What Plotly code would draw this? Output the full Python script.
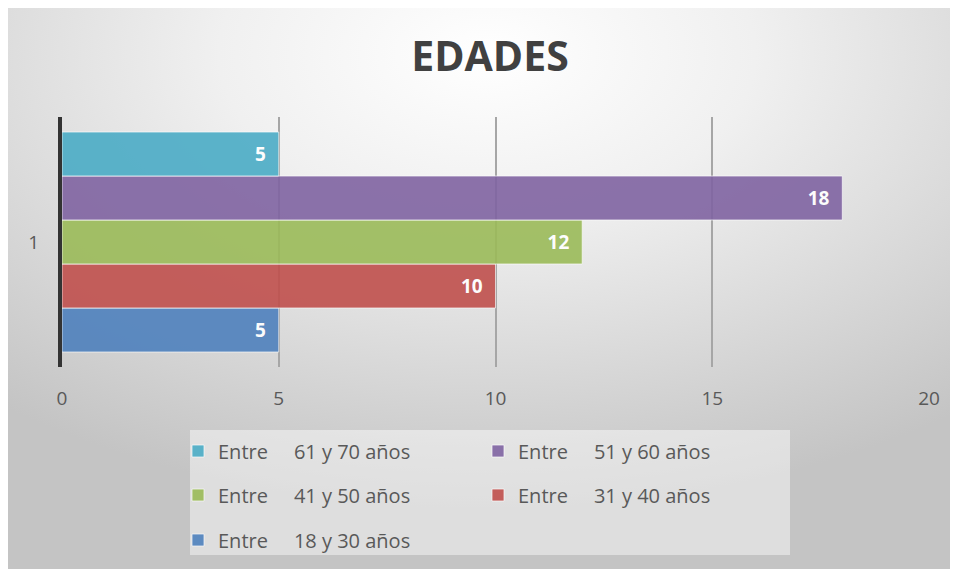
import base64
import plotly.graph_objects as go

categories = ["1"]
series_names = [
    "Entre\u00a0\u00a0\u00a0\u00a0\u00a018 y 30 años",
    "Entre\u00a0\u00a0\u00a0\u00a0\u00a031 y 40 años",
    "Entre\u00a0\u00a0\u00a0\u00a0\u00a041 y 50 años",
    "Entre\u00a0\u00a0\u00a0\u00a0\u00a051 y 60 años",
    "Entre\u00a0\u00a0\u00a0\u00a0\u00a061 y 70 años",
]
series_values = [5, 10, 12, 18, 5]
series_colors = ["#4F81BD", "#C0504D", "#9BBB59", "#8064A2", "#4BACC6"]
x_ticks = [0, 5, 10, 15, 20]

W, H = 958, 569
L, R, T, B = 54, 37, 109, 210
PW, PH = W - L - R, H - T - B


def px_x(px):
    return (px - L) / PW


def px_y(py):
    return (H - B - py) / PH


# legend placement in figure pixels: (left, center y)
legend_ids = ["legend", "legend2", "legend3", "legend4", "legend5"]
legend_pos = {
    "legend": (170, 532),   # 18-30
    "legend2": (470, 487),  # 31-40
    "legend3": (170, 487),  # 41-50
    "legend4": (470, 443),  # 51-60
    "legend5": (170, 443),  # 61-70
}

fig = go.Figure()
for name, val, col, lid in zip(series_names, series_values, series_colors, legend_ids):
    fig.add_trace(go.Bar(
        y=categories, x=[val], name=name, orientation="h",
        marker=dict(color=col, line=dict(color="rgba(255,255,255,0.7)", width=1)),
        opacity=0.9,
        text=[val], texttemplate="%{x}\u00a0\u00a0", textposition="inside",
        insidetextanchor="end",
        textfont=dict(family="Open Sans", size=19, color="white", weight="bold"),
        legend=lid, hoverinfo="skip",
    ))

svg = (
    '<svg xmlns="http://www.w3.org/2000/svg" viewBox="0 0 100 100" preserveAspectRatio="none">'
    '<defs><radialGradient id="g" cx="0.5" cy="0.08" r="0.8">'
    '<stop offset="0" stop-color="#ffffff"/>'
    '<stop offset="0.35" stop-color="#f0f0f0"/>'
    '<stop offset="1" stop-color="#c4c4c4"/>'
    '</radialGradient></defs>'
    '<rect x="0" y="0" width="100" height="100" fill="url(#g)"/></svg>'
)
uri = "data:image/svg+xml;base64," + base64.b64encode(svg.encode()).decode()

legend_layouts = {}
for lid, (lx, ly) in legend_pos.items():
    legend_layouts[lid] = dict(
        x=px_x(lx), y=px_y(ly), xanchor="left", yanchor="middle",
        xref="paper", yref="paper",
        bgcolor="rgba(0,0,0,0)", borderwidth=0,
        font=dict(family="Open Sans", size=20, color="#595959"),
    )

fig.update_layout(
    width=W, height=H,
    margin=dict(l=L, r=R, t=T, b=B),
    paper_bgcolor="#d0d0d0", plot_bgcolor="rgba(0,0,0,0)",
    barmode="group", bargap=0.12, bargroupgap=0,
    showlegend=True,
    title=dict(text="<b>EDADES</b>", x=(482 - L) / PW, xref="paper", xanchor="center",
               y=1 - 49 / H, yanchor="middle",
               font=dict(family="Open Sans", size=41, color="#404040")),
    xaxis=dict(range=[0, 20], tickvals=x_ticks, showgrid=True, gridcolor="#a6a6a6",
               gridwidth=2, zeroline=False, showline=False, ticks="",
               ticklabelstandoff=18,
               tickfont=dict(family="Open Sans", size=19, color="#595959")),
    yaxis=dict(showline=True, linecolor="#333333", linewidth=4, showgrid=False,
               ticks="", ticklabelstandoff=15,
               tickfont=dict(family="Open Sans", size=19, color="#595959")),
    images=[dict(source=uri, xref="paper", yref="paper",
                 x=px_x(0), y=px_y(0), sizex=W / PW, sizey=H / PH,
                 xanchor="left", yanchor="top", sizing="stretch", layer="below")],
    shapes=[dict(type="rect", xref="paper", yref="paper",
                 x0=px_x(182), x1=px_x(782), y0=px_y(547), y1=px_y(422),
                 fillcolor="rgba(255,255,255,0.45)", line=dict(width=0), layer="below")],
    **legend_layouts,
)

fig.write_html("out.html")
